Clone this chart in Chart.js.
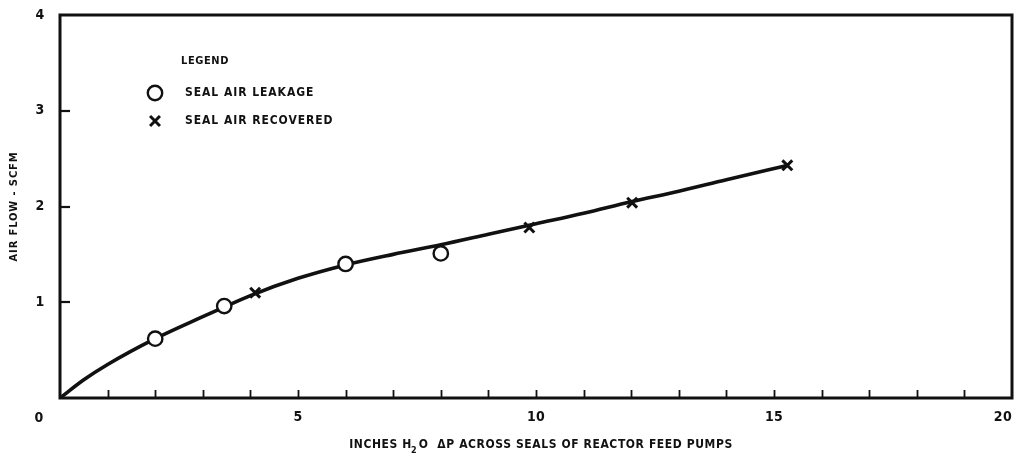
<!DOCTYPE html>
<html>
<head>
<meta charset="utf-8">
<title>Air Flow vs Seal Pressure Differential</title>
<script src="https://cdn.jsdelivr.net/npm/chart.js@4.4.1/dist/chart.umd.min.js"></script>
<style>
  html, body { margin: 0; padding: 0; background: #ffffff; }
  #wrap { width: 1014px; height: 459px; position: relative; }
</style>
</head>
<body>
<div id="wrap"><canvas id="chart" width="1014" height="459"></canvas></div>
<script>
// Faired curve through the test results (inches H2O vs SCFM)
const curveX = [0, 0.5, 1, 2, 3, 3.45, 4, 5, 6, 7, 8, 9, 10, 11, 12, 13, 14, 15.3];
const curveY = [0, 0.19, 0.35, 0.62, 0.85, 0.95, 1.07, 1.25, 1.39, 1.50, 1.60, 1.71, 1.82, 1.93, 2.05, 2.16, 2.28, 2.43];

// Seal air leakage measurements
const leakageX = [2.0, 3.45, 6.0, 8.0];
const leakageY = [0.62, 0.96, 1.40, 1.51];

// Seal air recovered measurements
const recoveredX = [4.1, 9.86, 12.02, 15.28];
const recoveredY = [1.10, 1.78, 2.04, 2.43];

// Axis ranges, tick steps and labels
const xRange = [0, 20];
const yRange = [0, 4];
const xMinorTicks = [1, 2, 3, 4, 5, 6, 7, 8, 9, 10, 11, 12, 13, 14, 15, 16, 17, 18, 19];
const xTickLabels = [5, 10, 15, 20];
const yMinorTicks = [1, 2, 3];
const yTickLabels = [1, 2, 3, 4];
const originLabel = '0';

const xTitleParts = ['INCHES H', '2', 'O  \u0394P ACROSS SEALS OF REACTOR FEED PUMPS'];
const yTitle = 'AIR FLOW - SCFM';
const legendTitle = 'LEGEND';
const seriesNames = ['SEAL AIR LEAKAGE', 'SEAL AIR RECOVERED'];

const toPoints = (xs, ys) => xs.map((x, i) => ({ x: x, y: ys[i] }));

const INK = '#111111';
const FONT_FAMILY = "'DejaVu Sans Condensed', 'Liberation Sans Narrow', 'DejaVu Sans', sans-serif";

function setFont(ctx, size, spacing) {
  ctx.font = 'bold ' + size + 'px ' + FONT_FAMILY;
  if ('letterSpacing' in ctx) ctx.letterSpacing = spacing + 'px';
}

// Frame, inward ticks, labels, titles and legend, all placed from the chart's scales
const paperPlugin = {
  id: 'paper',
  beforeDatasetsDraw(chart) {
    const ctx = chart.ctx;
    const a = chart.chartArea;
    const xs = chart.scales.x;
    const ys = chart.scales.y;
    ctx.save();
    ctx.strokeStyle = INK;
    ctx.lineCap = 'butt';

    // minor ticks on the bottom axis, pointing up
    ctx.lineWidth = 1.8;
    xMinorTicks.forEach(v => {
      const px = Math.round(xs.getPixelForValue(v)) + 0.5;
      ctx.beginPath();
      ctx.moveTo(px, a.bottom);
      ctx.lineTo(px, a.bottom - 8);
      ctx.stroke();
    });
    // ticks on the left axis, pointing right
    ctx.lineWidth = 2.2;
    yMinorTicks.forEach(v => {
      const py = Math.round(ys.getPixelForValue(v));
      ctx.beginPath();
      ctx.moveTo(a.left, py);
      ctx.lineTo(a.left + 10, py);
      ctx.stroke();
    });

    // frame
    ctx.lineWidth = 3;
    ctx.strokeRect(a.left, a.top, a.right - a.left, a.bottom - a.top);
    ctx.restore();
  },
  afterDraw(chart) {
    const ctx = chart.ctx;
    const a = chart.chartArea;
    const xs = chart.scales.x;
    const ys = chart.scales.y;
    ctx.save();
    ctx.fillStyle = INK;
    ctx.textBaseline = 'middle';

    // tick labels
    setFont(ctx, 14, 0.3);
    ctx.textAlign = 'center';
    xTickLabels.forEach(v => {
      const txt = String(v);
      const w = ctx.measureText(txt).width;
      let px = xs.getPixelForValue(v);
      px = Math.min(px, chart.width - 2 - w / 2);
      ctx.fillText(txt, px, 417);
    });
    yTickLabels.forEach(v => {
      const py = Math.max(ys.getPixelForValue(v), a.top - 2);
      ctx.fillText(String(v), 40, py);
    });
    ctx.fillText(originLabel, 39, 418);

    // x axis title with subscript
    const big = [12, 0.6];
    const sub = [9, 0.3];
    setFont(ctx, big[0], big[1]);
    ctx.textAlign = 'left';
    const w0 = ctx.measureText(xTitleParts[0]).width;
    const w2 = ctx.measureText(xTitleParts[2]).width;
    setFont(ctx, sub[0], sub[1]);
    const w1 = ctx.measureText(xTitleParts[1]).width;
    const total = w0 + w1 + w2 + 1;
    const x0 = 541 - total / 2;
    const ty = 445;
    setFont(ctx, big[0], big[1]);
    ctx.fillText(xTitleParts[0], x0, ty);
    setFont(ctx, sub[0], sub[1]);
    ctx.fillText(xTitleParts[1], x0 + w0 - 1, ty + 6);
    setFont(ctx, big[0], big[1]);
    ctx.fillText(xTitleParts[2], x0 + w0 + w1 + 1, ty);

    // y axis title, rotated
    ctx.save();
    ctx.translate(14, (a.top + a.bottom) / 2);
    ctx.rotate(-Math.PI / 2);
    ctx.textAlign = 'center';
    setFont(ctx, 11, 0.9);
    ctx.fillText(yTitle, 0, 0);
    ctx.restore();

    // legend
    setFont(ctx, 11, 0.6);
    ctx.textAlign = 'center';
    ctx.fillText(legendTitle, 205, 61);
    ctx.textAlign = 'left';
    setFont(ctx, 12, 0.95);
    const rows = [93, 121];
    const dsIndex = [1, 2];
    rows.forEach((ry, i) => {
      const ds = chart.data.datasets[dsIndex[i]];
      ctx.save();
      ctx.strokeStyle = ds.borderColor;
      ctx.fillStyle = ds.backgroundColor;
      ctx.lineWidth = ds.borderWidth;
      Chart.helpers.drawPoint(ctx, {
        pointStyle: ds.pointStyle,
        radius: ds.pointRadius,
        rotation: 0,
        borderWidth: ds.borderWidth
      }, 155, ry);
      ctx.restore();
      ctx.fillText(seriesNames[i], 185, ry);
    });
    ctx.restore();
  }
};

new Chart(document.getElementById('chart'), {
  type: 'scatter',
  data: {
    datasets: [
      {
        type: 'line',
        label: 'curve',
        data: toPoints(curveX, curveY),
        borderColor: INK,
        borderWidth: 3.6,
        pointRadius: 0,
        fill: false,
        cubicInterpolationMode: 'monotone',
        order: 3
      },
      {
        label: seriesNames[0],
        data: toPoints(leakageX, leakageY),
        pointStyle: 'circle',
        pointRadius: 7.2,
        borderWidth: 2.4,
        borderColor: INK,
        backgroundColor: '#ffffff',
        order: 1
      },
      {
        label: seriesNames[1],
        data: toPoints(recoveredX, recoveredY),
        pointStyle: 'crossRot',
        pointRadius: 7,
        borderWidth: 3,
        borderColor: INK,
        backgroundColor: INK,
        order: 2
      }
    ]
  },
  options: {
    responsive: false,
    animation: false,
    layout: { autoPadding: false, padding: { left: 60, right: 2, top: 15, bottom: 61 } },
    plugins: {
      legend: { display: false },
      tooltip: { enabled: false },
      title: { display: false }
    },
    scales: {
      x: { type: 'linear', min: xRange[0], max: xRange[1], display: false },
      y: { type: 'linear', min: yRange[0], max: yRange[1], display: false }
    }
  },
  plugins: [paperPlugin]
});
</script>
</body>
</html>
